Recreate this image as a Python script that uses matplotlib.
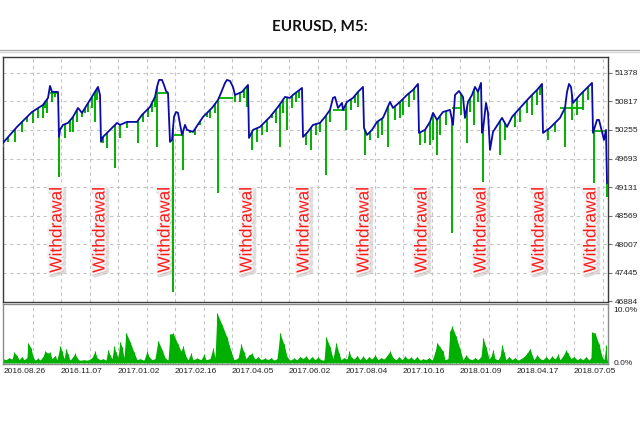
import numpy as np
import matplotlib
matplotlib.use("Agg")
import matplotlib.pyplot as plt
import matplotlib.patheffects as pe
from matplotlib.lines import Line2D

# balance curve (x = trade index, y = account value)
bal_x = [3, 17, 32, 43, 48, 50, 52, 58, 59, 60, 63, 68, 73, 78, 82, 90, 95, 98, 100,
         101, 103, 108, 117, 120, 127, 137, 142, 150, 155, 157, 159, 162, 164, 166, 168,
         170, 172, 174, 176, 178, 182, 185, 187, 193, 203, 212, 218, 221, 225, 227, 230, 233,
         235, 242, 248,
         249, 253, 260, 270, 278, 285, 290, 293, 302,
         303, 307, 313, 320, 325, 330, 333, 335, 338, 342, 343, 347, 353, 358, 363,
         364, 367, 372, 377, 383, 390, 393, 400, 407, 413, 418,
         419, 425, 430, 433, 437, 443, 450, 453, 455, 459, 463, 465, 468, 472, 475, 478, 481,
         482, 483, 486, 488, 490, 493, 502, 507, 512, 520, 530, 537, 542,
         543, 550, 560, 565, 567, 569, 571, 573, 580, 592,
         593, 597, 599, 602, 604, 606, 607]
bal_y = [50000, 50315, 50609, 50747, 50885, 51121, 51003, 51003, 50118, 50256, 50354, 50393,
         50511, 50688, 50590, 50845, 51003, 51101, 50944,
         50020, 50118, 50216, 50393, 50354, 50413, 50413, 50551, 50708, 50904, 51100, 51239,
         51239, 51140, 51022, 50983,
         50020, 50059, 50511, 50609, 50590, 50157, 50354, 50256, 50216, 50511, 50688, 50845,
         50983, 51180, 51239, 51219, 51100, 50944, 51003, 51140,
         50098, 50256, 50315, 50511, 50708, 50904, 50885, 50944, 51081,
         50118, 50197, 50354, 50393, 50511, 50649, 50885, 50904, 50688, 50786, 50649, 50806,
         50885, 51003, 51101,
         50295, 50157, 50256, 50413, 50492, 50806, 50688, 50806, 50944, 51042, 51160,
         50197, 50256, 50413, 50590, 50452, 50609, 50649, 50354, 50944, 51022, 50904, 50492,
         50806, 50944, 51101, 51003, 51180,
         50197, 50256, 50786, 50590, 49862, 50216, 50492, 50315, 50511, 50688, 50904, 51042,
         51160,
         50197, 50295, 50492, 50688, 51000, 51160, 51100, 50786, 50944, 51180,
         50197, 50452, 50452, 50216, 50059, 50256, 49214]

# equity dips (trade index, lowest equity)
dip_x = [3, 8, 15, 22, 27, 33, 38, 43, 45, 47, 52, 55,
         59, 65, 70, 73, 77, 82, 85, 88, 92, 95, 97,
         103, 107, 115, 120, 127, 138, 143, 148, 152, 155, 157,
         173, 183, 190, 195, 200, 207, 210, 215, 218, 235, 240, 244, 247,
         252, 257, 262, 267, 272, 276, 280, 283, 287, 292, 296, 299,
         306, 311, 316, 320, 326, 330, 346, 351, 355, 358,
         365, 370, 378, 382, 388, 395, 400, 403, 409, 414,
         420, 425, 430, 433, 437, 440, 446, 452, 461, 467, 470, 474, 478,
         483, 500, 505, 515, 520, 527, 532, 537, 540,
         548, 555, 565, 572, 577, 583, 588, 594, 607]
dip_low = [49921, 50020, 50020, 50216, 50413, 50393, 50492, 50492, 50688, 50590, 50806, 50904,
           49332, 50098, 50216, 50216, 50413, 50511, 50590, 50609, 50688, 50413, 50845,
           50000, 49902, 49509, 50098, 50295, 50000, 50413, 50511, 50609, 50708, 49921,
           47071, 49469, 50197, 50157, 50354, 50511, 50492, 50590, 49017, 50806, 50806, 50885,
           50708,
           49862, 50020, 50157, 50216, 50492, 50393, 49921, 50590, 50256, 50688, 50806, 50885,
           49961, 49862, 50157, 50216, 49371, 50413, 50256, 50649, 50787, 50708,
           49764, 50059, 50098, 50157, 49921, 50452, 50492, 50551, 50708, 50845,
           49961, 50000, 49961, 50059, 49764, 50157, 50354, 48231, 50551, 50000, 50609, 50354,
           50806,
           49233, 49764, 50059, 50315, 50413, 50590, 50551, 50747, 50944,
           50059, 50216, 49921, 50452, 50551, 50649, 50845, 49214, 48939]

# flat equity stretches while balance bulges
flat_x0 = [50, 158, 172, 218, 333, 452, 560, 593]
flat_x1 = [58, 168, 183, 233, 347, 462, 583, 606]
flat_v = [50983, 50983, 50157, 50885, 50649, 50688, 50688, 50236]

withdraw_x = [57, 100, 165, 247, 304, 364, 422, 481, 539, 591]

# drawdown panel (%)
dd_x = [3, 6, 9, 12, 14, 17, 19, 22, 24, 27, 28, 31, 33, 35, 38, 40, 43, 45, 48, 50, 52, 55, 57,
        60, 62, 64, 66, 68, 70, 73, 75, 77, 79, 84, 88, 92, 95, 97, 100, 103, 106, 108, 110,
        112, 114, 116, 118, 120, 122, 124, 126, 130, 134, 137, 140, 144, 147, 149, 152, 155,
        158, 162, 165, 168, 170, 173, 178, 181, 183, 186, 188, 191, 193, 197, 201, 204, 206,
        210, 213, 215, 217, 222, 227, 231, 234, 238, 241, 244, 246, 249, 252, 255, 258, 261,
        265, 268, 271, 274, 277, 280, 284, 287, 290, 294, 297, 300, 303, 306, 309, 312, 315,
        318, 321, 324, 326, 330, 333, 336, 339, 341, 344, 347, 349, 351, 354, 357, 360, 363,
        366, 369, 372, 375, 378, 381, 384, 387, 390, 393, 396, 399, 402, 405, 408, 411, 414,
        417, 420, 423, 426, 429, 432, 435, 437, 440, 443, 445, 448, 450, 452, 456, 460, 463,
        466, 469, 472, 475, 478, 481, 483, 486, 489, 491, 493, 495, 498, 500, 502, 504, 506,
        509, 512, 515, 518, 521, 524, 527, 530, 532, 534, 537, 540, 543, 546, 549, 552, 555,
        558, 560, 563, 566, 568, 571, 574, 577, 580, 583, 586, 589, 591, 592, 595, 599, 602,
        604, 606, 607]
dd_pct = [0.8, 0.6, 1.0, 0.7, 2.0, 1.4, 0.6, 1.2, 0.6, 1.0, 3.8, 2.8, 1.2, 0.5, 0.9, 0.5, 1.2,
          2.2, 1.8, 2.0, 0.8, 1.4, 0.6, 3.1, 2.2, 0.8, 2.6, 1.6, 0.5, 1.2, 1.8, 1.0, 0.5, 0.6,
          0.5, 1.0, 2.2, 1.0, 0.6, 0.8, 0.5, 2.5, 1.5, 0.8, 3.1, 2.0, 1.0, 4.0, 3.0, 1.0, 5.7,
          4.0, 2.0, 0.6, 0.8, 0.5, 2.2, 1.2, 0.6, 0.8, 4.2, 2.5, 1.0, 0.5, 5.4, 5.6, 3.5, 2.2,
          3.1, 1.2, 0.6, 1.8, 0.6, 0.9, 0.6, 1.6, 0.6, 0.8, 2.8, 1.0, 9.4, 7.2, 4.8, 2.2, 0.6,
          0.9, 3.5, 2.0, 0.8, 1.5, 1.8, 0.7, 1.2, 0.6, 0.9, 0.6, 1.0, 0.5, 0.8, 5.6, 3.5, 1.2,
          0.5, 0.9, 0.6, 1.2, 0.8, 1.3, 0.6, 1.2, 0.6, 1.1, 0.6, 0.5, 4.9, 3.0, 0.8, 3.8, 1.8,
          0.6, 1.0, 0.7, 2.2, 1.2, 0.7, 1.4, 0.6, 1.3, 0.6, 1.2, 0.7, 1.5, 0.6, 1.0, 0.7, 1.4,
          2.2, 1.0, 0.6, 1.2, 0.6, 1.3, 0.7, 1.1, 0.6, 1.2, 0.5, 0.8, 0.6, 1.0, 0.5, 2.0, 3.8,
          3.0, 2.2, 0.6, 0.8, 6.0, 6.9, 5.0, 2.6, 0.6, 1.5, 0.8, 0.6, 1.0, 0.6, 1.2, 4.7, 3.0,
          0.8, 1.2, 2.5, 0.8, 0.6, 1.2, 3.4, 2.0, 0.6, 1.2, 0.6, 1.0, 0.5, 0.8, 1.2, 1.8, 2.7,
          1.5, 0.6, 1.5, 0.8, 0.6, 1.2, 0.6, 1.3, 0.7, 1.6, 0.6, 1.3, 2.4, 1.8, 0.8, 1.2, 0.6,
          0.9, 0.6, 1.2, 0.5, 1.0, 5.8, 5.6, 3.5, 1.2, 0.6, 3.3, 0.5]

y_ticks = [46884, 47445, 48007, 48569, 49131, 49693, 50255, 50817, 51378]
date_labels = ['2016.08.26', '2016.11.07', '2017.01.02', '2017.02.16', '2017.04.05',
               '2017.06.02', '2017.08.04', '2017.10.16', '2018.01.09', '2018.04.17',
               '2018.07.05']

W, H = 640, 426
BLUE = '#0a0aa8'
GREEN = '#00b000'
GRID = '#c4c4c4'
TICKFONT = 'Liberation Sans'


def box(x0, y0, x1, y1):
    return [x0 / W, 1 - y1 / H, (x1 - x0) / W, (y1 - y0) / H]


fig = plt.figure(figsize=(6.4, 4.26), dpi=100)
ax = fig.add_axes(box(3, 57, 608, 302))
ax2 = fig.add_axes(box(3, 304, 608, 364))

x_lo, x_hi = 3, 608
grid_step = 28.5
vgrid = np.arange(4 + grid_step, x_hi - 2, grid_step)

# main panel
ax.set_xlim(x_lo, x_hi)
ax.set_ylim(46870, 51690)
for v in y_ticks[1:]:
    ax.axhline(v, color=GRID, lw=0.8, ls=(0, (3, 3)), zorder=0)
for g in vgrid:
    ax.axvline(g, color=GRID, lw=0.8, ls=(0, (3, 3)), zorder=0)

glow = [pe.Stroke(linewidth=4, foreground='#c8c8c8', offset=(1.5, -1.5), alpha=0.6),
        pe.Stroke(linewidth=3, foreground='#f4f4f4'), pe.Normal()]
for wx in withdraw_x:
    ax.text(wx, 48290, 'Withdrawal', rotation=90, ha='center', va='center',
            color='#ff1a1a', fontsize=12.5, family=TICKFONT, zorder=1,
            path_effects=glow)

tops = np.interp(dip_x, bal_x, bal_y)
ax.vlines(dip_x, dip_low, tops, color=GREEN, lw=1.4, zorder=3)
ax.hlines(flat_v, flat_x0, flat_x1, color=GREEN, lw=1.3, zorder=3)
ax.plot(bal_x, bal_y, color=BLUE, lw=1.3, zorder=4, solid_joinstyle='round')

ax.set_xticks([])
ax.set_yticks(y_ticks)
ax.set_yticklabels([str(v) for v in y_ticks], family=TICKFONT)
ax.yaxis.tick_right()
ax.tick_params(axis='y', length=3, width=0.8, color='#707070', labelsize=6, pad=2,
               labelcolor='#202020')
for s in ax.spines.values():
    s.set_color('#3a3a3a')
    s.set_linewidth(1.0)

# drawdown panel
ax2.set_xlim(x_lo, x_hi)
ax2.set_ylim(-0.2, 11.1)
for g in vgrid:
    ax2.axvline(g, color=GRID, lw=0.8, ls=(0, (3, 3)), zorder=0)
ax2.fill_between(dd_x, 0, dd_pct, color=GREEN, lw=0, zorder=2)
ax2.vlines(dd_x, 0, dd_pct, color=GREEN, lw=0.8, zorder=2)
ax2.set_yticks([0, 10])
ax2.set_yticklabels(['0.0%', '10.0%'], family=TICKFONT)
ax2.yaxis.tick_right()
ax2.tick_params(axis='y', length=0, labelsize=6, pad=4, labelcolor='#202020')
ax2.set_xticks(4 + 2 * grid_step * np.arange(len(date_labels)))
ax2.set_xticklabels(date_labels, family=TICKFONT, ha='left')
ax2.tick_params(axis='x', length=0, labelsize=6, pad=3, labelcolor='#202020')
for s in ax2.spines.values():
    s.set_color('#8a8a8a')
    s.set_linewidth(1.0)

# header
fig.text(0.5, 1 - 27 / H, 'EURUSD, M5:', ha='center', va='center', fontsize=11,
         fontweight='bold', family='Lato', color='#111111')
fig.add_artist(Line2D([0, 1], [1 - 49.5 / H] * 2, color='#a8a8a8', lw=0.9))
fig.add_artist(Line2D([0, 1], [1 - 52 / H] * 2, color='#d4d4d4', lw=0.9))

fig.savefig('out.png', dpi=100, facecolor='white')
